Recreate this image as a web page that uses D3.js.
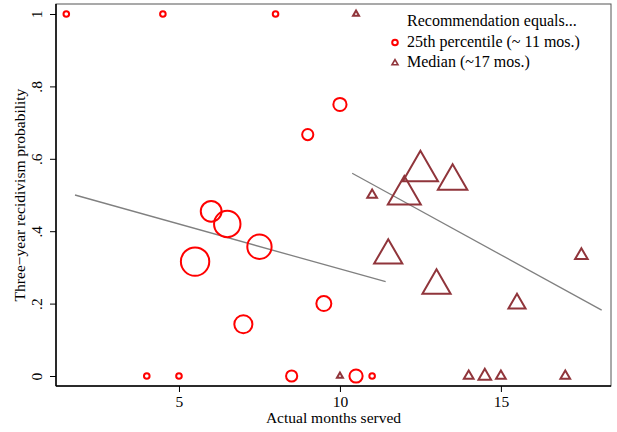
<!DOCTYPE html>
<html>
<head>
<meta charset="utf-8">
<script src="https://cdn.jsdelivr.net/npm/d3@7"></script>
<style>
  body { margin: 0; background: #fff; }
  text { font-family: "Liberation Serif", "DejaVu Serif", serif; fill: #000; }
</style>
</head>
<body>
<svg id="chart" width="617" height="432"></svg>
<script>
// 25th percentile recommendation (circles)
const circleMonths = [1.5, 4.5, 8, 10, 9, 6, 6.5, 7.5, 5.5, 7, 9.5, 4, 5, 8.5, 10.5, 11];
const circleProb   = [1, 1, 1, 0.75, 0.667, 0.455, 0.42, 0.357, 0.316, 0.143, 0.2, 0, 0, 0, 0, 0];
const circleCount  = [1, 1, 1, 4, 3, 9, 14, 12, 16, 7, 5, 1, 1, 3, 4, 1];

// median recommendation (triangles)
const triMonths = [10.5, 12.5, 13.5, 12, 11, 11.5, 13, 15.5, 17.5, 10, 14, 14.5, 15, 17];
const triProb   = [1, 0.566, 0.538, 0.5, 0.5, 0.333, 0.25, 0.2, 0.333, 0, 0, 0, 0, 0];
const triCount  = [1, 18, 13, 16, 2, 12, 12, 5, 3, 1, 2, 3, 2, 2];

// linear fits, endpoints [months, prob]
const fitCircle = [[1.77, 0.50], [11.42, 0.2605]];
const fitTri    = [[10.38, 0.56], [18.13, 0.182]];

const xTicks = [5, 10, 15];
const yTicks = [0, 0.2, 0.4, 0.6, 0.8, 1];
const yTickLabels = ["0", ".2", ".4", ".6", ".8", "1"];
const legendTitle = "Recommendation equals...";
const legendLabels = ["25th percentile (~ 11 mos.)", "Median (~17 mos.)"];

const RED = "#ff0000";
const CRANBERRY = "#90353b";
const FONT = "15.5px";

const svg = d3.select("#chart");
const plot = { left: 56, top: 4, right: 611, bottom: 386 };

const x = d3.scaleLinear().domain([1.18, 18.42]).range([plot.left, plot.right]);
const y = d3.scaleLinear().domain([-0.0276, 1.0276]).range([plot.bottom, plot.top]);

// marker sizes: area proportional to count
const circleR = d3.scaleSqrt().domain([0, 1]).range([0, 3.8]);
const triSide = d3.scaleSqrt().domain([0, 1]).range([0, 9]);

function trianglePath(s) {
    const h = s * Math.sqrt(3) / 2;
    return `M0,${-2 * h / 3}L${s / 2},${h / 3}L${-s / 2},${h / 3}Z`;
}

// frame
svg.append("rect")
    .attr("x", plot.left).attr("y", plot.top)
    .attr("width", plot.right - plot.left).attr("height", plot.bottom - plot.top)
    .attr("fill", "none").attr("stroke", "#555").attr("stroke-width", 1);

// axes
const xAxis = d3.axisBottom(x).tickValues(xTicks).tickSize(6).tickFormat(d3.format("d"));
const gx = svg.append("g").attr("transform", `translate(0,${plot.bottom})`).call(xAxis);
gx.select(".domain").attr("stroke", "#000").attr("stroke-width", 1.5)
    .attr("d", `M${plot.left},0H${plot.right}`);
gx.selectAll(".tick line").attr("stroke", "#000");
gx.selectAll(".tick text")
    .attr("y", 21)
    .attr("dy", 0)
    .style("font-size", FONT)
    .style("font-family", "Liberation Serif");

const yAxis = d3.axisLeft(y).tickValues(yTicks).tickSize(6).tickFormat((d, i) => yTickLabels[i]);
const gy = svg.append("g").attr("transform", `translate(${plot.left},0)`).call(yAxis);
gy.select(".domain").attr("stroke", "#000").attr("stroke-width", 1.5)
    .attr("d", `M0,${plot.top}V${plot.bottom}`);
gy.selectAll(".tick line").attr("stroke", "#000");
gy.selectAll(".tick text")
    .attr("x", null).attr("dy", null)
    .attr("transform", "translate(-14,0) rotate(-90)")
    .attr("text-anchor", "middle")
    .attr("y", 0)
    .style("font-size", FONT)
    .style("font-family", "Liberation Serif");

// axis titles
svg.append("text")
    .attr("x", (plot.left + plot.right) / 2).attr("y", 423)
    .attr("text-anchor", "middle")
    .style("font-size", FONT)
    .text("Actual months served");

svg.append("text")
    .attr("transform", `translate(25,${(plot.top + plot.bottom) / 2}) rotate(-90)`)
    .attr("text-anchor", "middle")
    .style("font-size", FONT)
    .text("Three\u2212year recidivism probability");

// fit lines
const line = d3.line().x(d => x(d[0])).y(d => y(d[1]));
[fitCircle, fitTri].forEach(f => {
    svg.append("path").attr("d", line(f))
        .attr("fill", "none").attr("stroke", "#808080").attr("stroke-width", 1.3);
});

// circles
svg.append("g").selectAll("circle")
    .data(circleMonths.map((m, i) => ({ m, p: circleProb[i], n: circleCount[i] })))
    .join("circle")
        .attr("cx", d => x(d.m))
        .attr("cy", d => y(d.p))
        .attr("r", d => circleR(d.n) - 1)
        .attr("fill", "none")
        .attr("stroke", RED)
        .attr("stroke-width", 2);

// triangles
svg.append("g").selectAll("path")
    .data(triMonths.map((m, i) => ({ m, p: triProb[i], n: triCount[i] })))
    .join("path")
        .attr("transform", d => `translate(${x(d.m)},${y(d.p)})`)
        .attr("d", d => trianglePath(triSide(d.n) - 3))
        .attr("fill", "none")
        .attr("stroke", CRANBERRY)
        .attr("stroke-width", 2)
        .attr("stroke-linejoin", "miter");

// legend
const legend = svg.append("g").attr("transform", "translate(407,0)");
legend.append("text").attr("x", 0).attr("y", 25.5).style("font-size", "16px").text(legendTitle);
legendLabels.forEach((lab, i) => {
    const yy = 46.5 + i * 20.5;
    legend.append("text").attr("x", 0).attr("y", yy).style("font-size", "16px").text(lab);
    if (i === 0) {
        legend.append("circle").attr("cx", -12).attr("cy", yy - 4).attr("r", circleR(1) - 1)
            .attr("fill", "none").attr("stroke", RED).attr("stroke-width", 2);
    } else {
        legend.append("path").attr("transform", `translate(-12,${yy - 4})`)
            .attr("d", trianglePath(triSide(1) - 3))
            .attr("fill", "none").attr("stroke", CRANBERRY).attr("stroke-width", 1.6);
    }
});
</script>
</body>
</html>
